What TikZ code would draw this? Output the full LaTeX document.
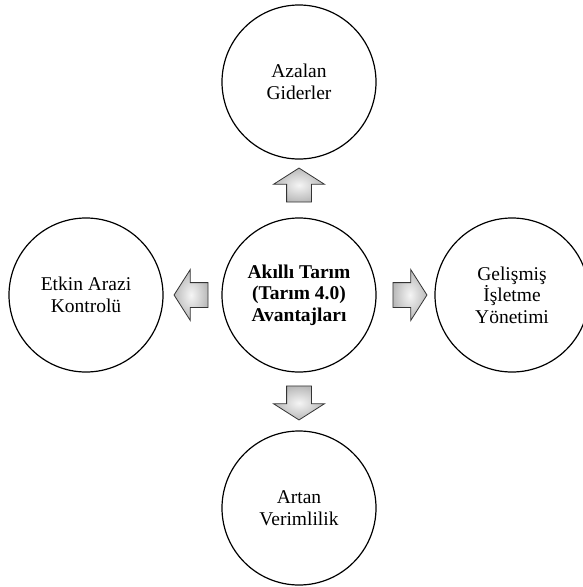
\documentclass[tikz,border=0pt]{standalone}
\usepackage{fontspec}
\setmainfont{Liberation Serif}
\usetikzlibrary{positioning,shapes.arrows}

\begin{document}
\begin{tikzpicture}[x=1pt, y=-1pt, node distance=213pt, on grid,
    topic/.style={circle, draw, line width=1.2pt, minimum size=154pt, inner sep=0pt,
        align=center, font=\fontsize{19.5}{21.5}\selectfont},
    pointer/.style={single arrow, draw=black!80, line width=0.8pt, minimum height=34pt,
        inner xsep=0pt, inner ysep=12pt, single arrow head extend=13pt,
        single arrow tip angle=115, inner color=gray!8, outer color=gray!55}]
    \useasboundingbox (0,0) rectangle (582,587);
    \node[topic, font=\bfseries\fontsize{19.5}{21.5}\selectfont] (hub) at (299,295) {Akıllı Tarım\\(Tarım 4.0)\\Avantajları};
    \node[topic, above = of hub] (gider) {Azalan\\Giderler};
    \node[topic, left = of hub] (arazi) {Etkin Arazi\\Kontrolü};
    \node[topic, right = of hub] (isletme) {Gelişmiş\\İşletme\\Yönetimi};
    \node[topic, below = of hub] (verim) {Artan\\Verimlilik};
    % arrows between the circles
    \node[pointer, rotate=90, above = 106pt of hub] (up) {};
    \node[pointer, rotate=180, left = 104pt of hub] (lt) {};
    \node[pointer, right = 107pt of hub] (rt) {};
    \node[pointer, rotate=270, below = 104pt of hub] (dn) {};
\end{tikzpicture}
\end{document}
